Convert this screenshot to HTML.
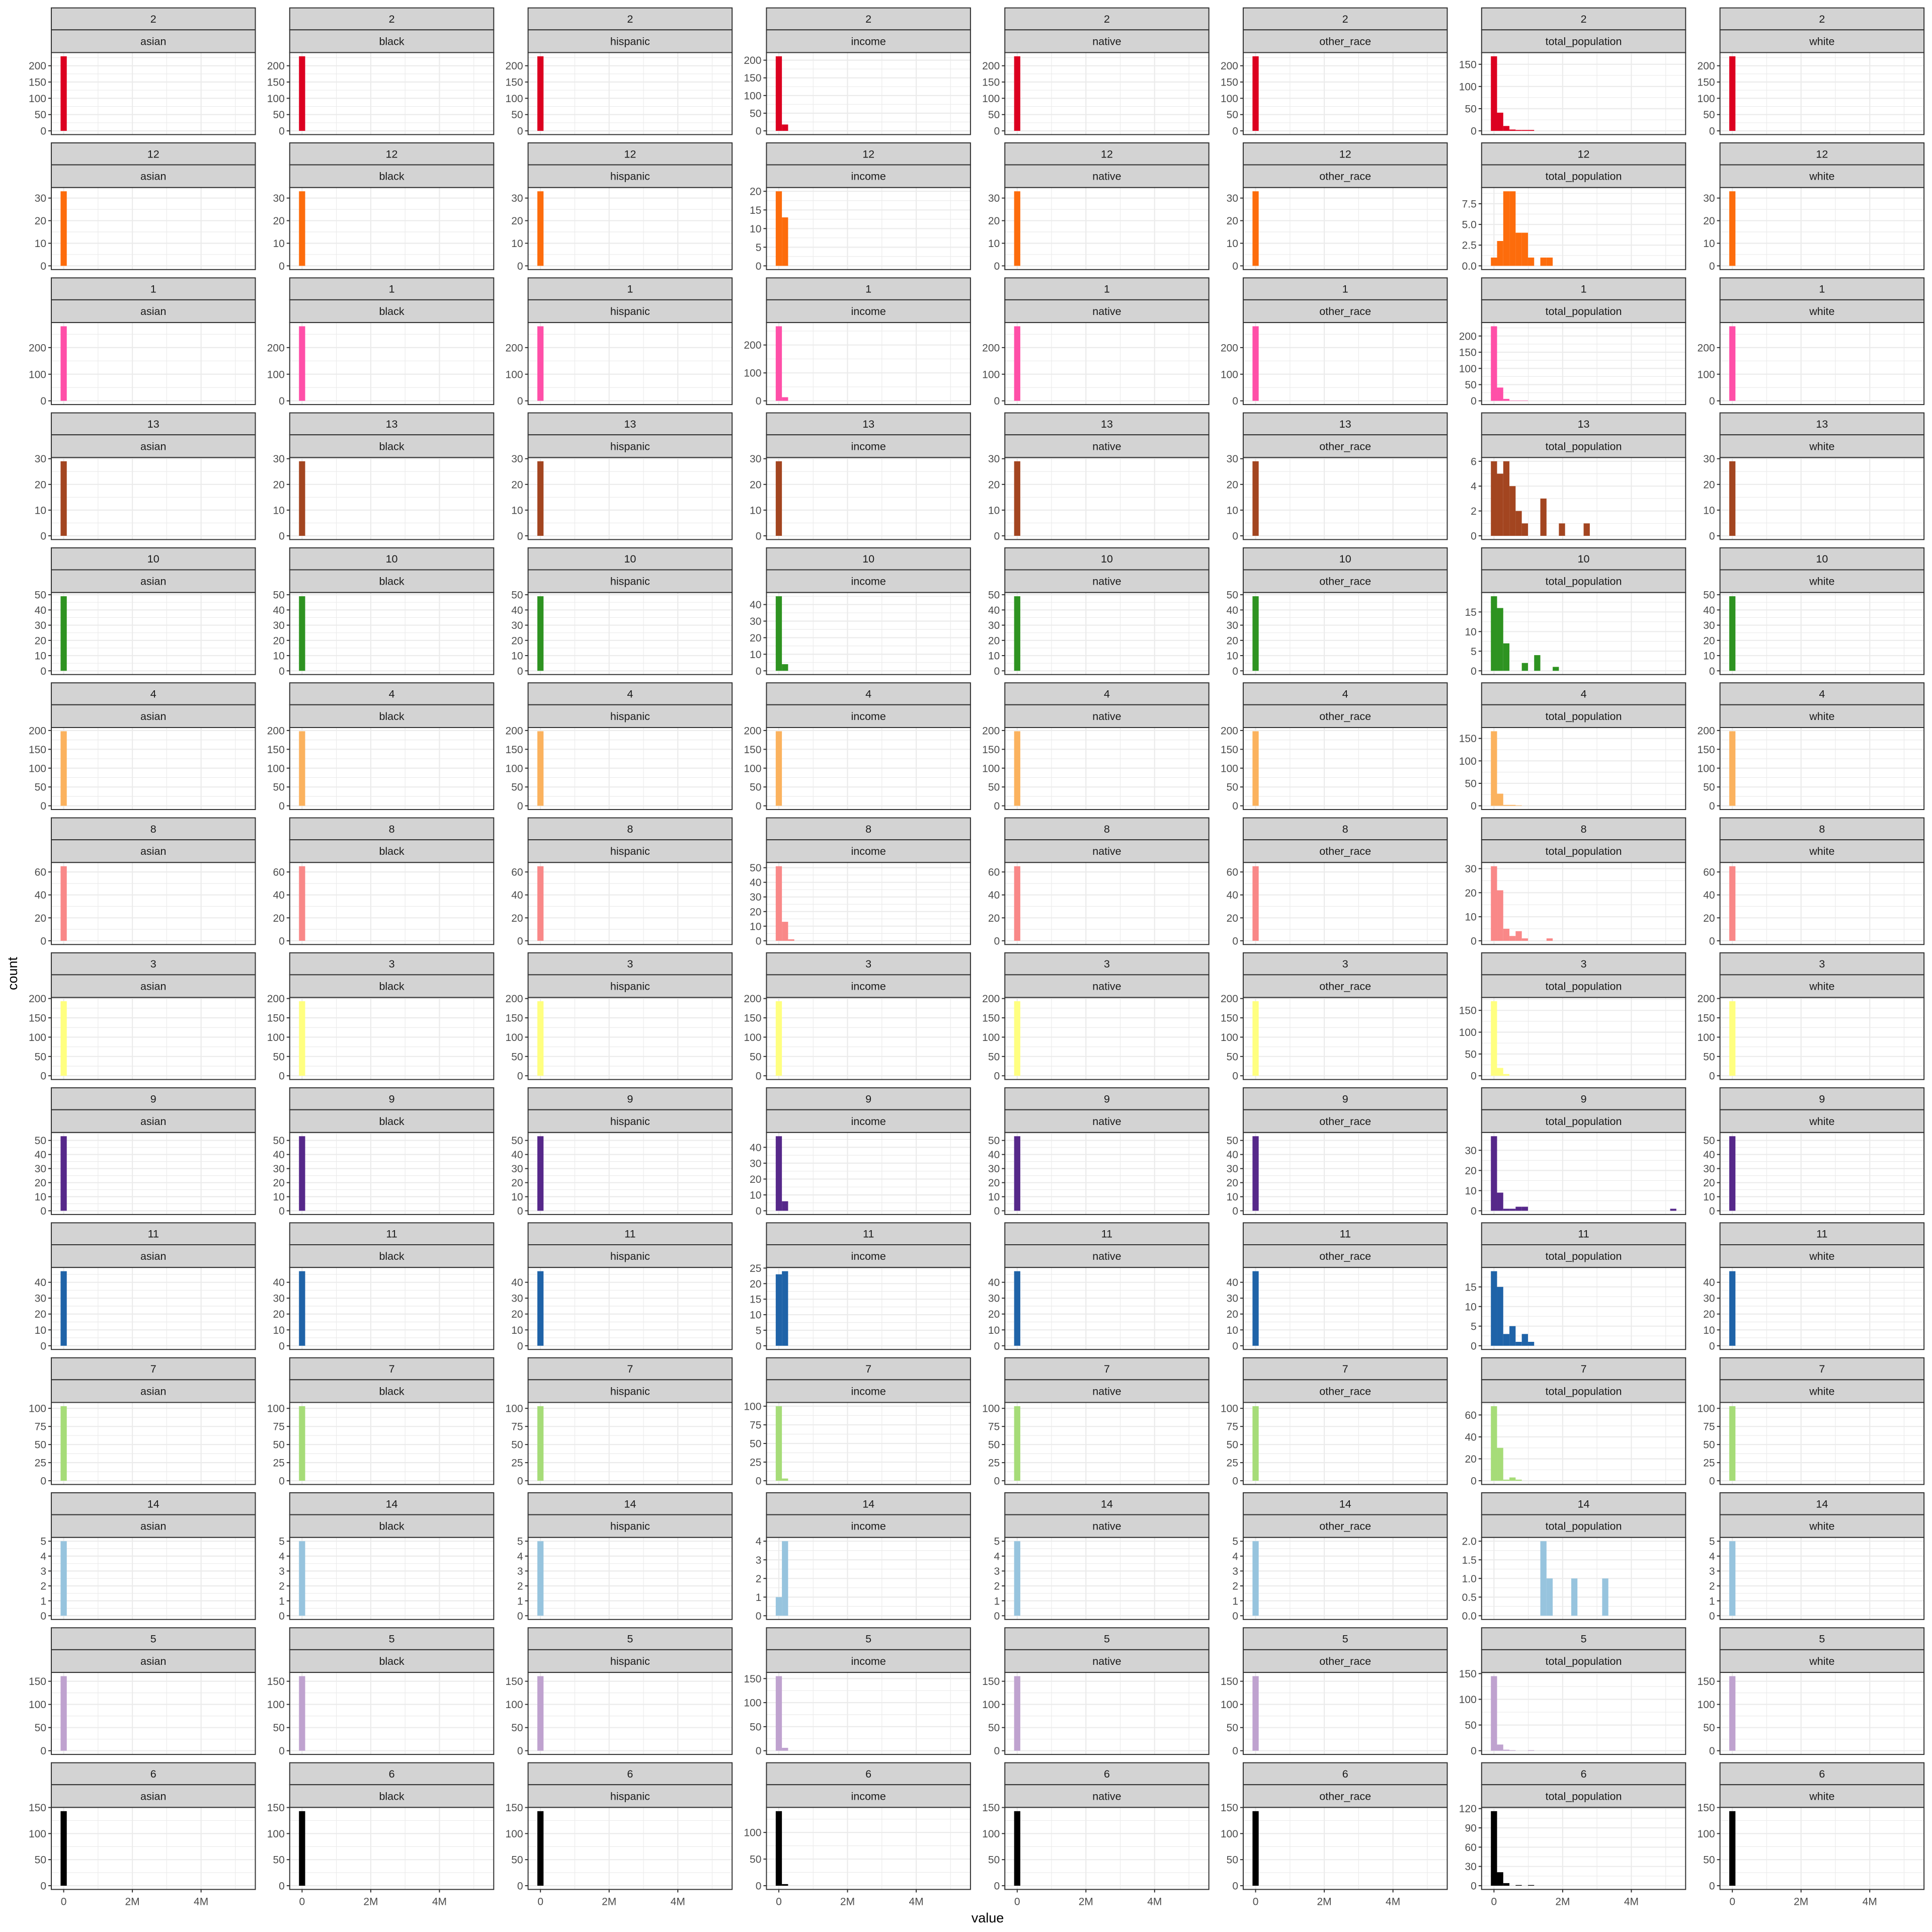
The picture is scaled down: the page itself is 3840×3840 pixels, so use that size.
<!DOCTYPE html>
<html>
<head>
<meta charset="utf-8">
<style>
  html, body { margin: 0; padding: 0; background: #ffffff; }
  svg { display: block; }
  text { font-family: "Liberation Sans", "DejaVu Sans", sans-serif; }
</style>
</head>
<body>
<svg id="chart" xmlns="http://www.w3.org/2000/svg" width="3840" height="3840" viewBox="0 0 3840 3840">
  <rect x="0" y="0" width="3840" height="3840" fill="#ffffff"></rect>
  <text x="1963" y="3821" font-size="27" fill="#000" text-anchor="middle">value</text>
  <text x="0" y="0" font-size="27" fill="#000" text-anchor="middle" transform="translate(34,1935) rotate(-90)">count</text>
</svg>
<script>
const regions = ["2","12","1","13","10","4","8","3","9","11","7","14","5","6"];
const variables = ["asian","black","hispanic","income","native","other_race","total_population","white"];
const regionColors = ["#DC0020","#FD6C0C","#FF4FA8","#A34520","#2E9321","#FBB25E","#F98888","#FFFF80","#56288A","#1F63A8","#A6DC78","#97C4DE","#BFA2CF","#000000"];
const raceCounts = [229,33,280,29,49,198,65,193,53,47,103,5,161,143];
const incomeCounts = [
  [211,18],[20,13],[267,13],[29],[45,4],[198],[51,13,1],[193],[47,6],[23,24],[100,3],[1,4],[155,6],[140,3]
];
const populationCounts = [
  [168,41,11,3,2,2,2],
  [1,3,9,9,4,4,1,0,1,1],
  [230,41,6,1,1,1],
  [6,5,6,4,2,1,0,0,3,0,0,1,0,0,0,1],
  [19,16,7,0,0,2,0,4,0,0,1],
  [166,27,2,2,1],
  [31,21,5,2,4,1,0,0,0,1],
  [171,18,4],
  [37,9,1,1,2,2,0,0,0,0,0,0,0,0,0,0,0,0,0,0,0,0,0,0,0,0,0,0,0,1],
  [19,15,3,5,1,3,1],
  [68,30,1,3,1],
  [0,0,0,0,0,0,0,0,2,1,0,0,0,1,0,0,0,0,1],
  [145,12,2,1,0,0,1],
  [116,21,4,0,1,0,1]
];
const raceTickSteps = [50,10,100,10,10,50,20,50,10,10,25,1,50,50];
const incomeTickSteps = [50,5,100,10,10,50,10,50,10,5,25,1,50,50];
const populationTickSteps = [50,2.5,50,2,5,50,10,50,10,5,20,0.5,50,30];
const binWidth = 180000;
const xTicks = [0, 2000000, 4000000];
const xTickLabels = ["0", "2M", "4M"];
const xMinorTicks = [1000000, 3000000, 5000000];
const xDomain = [-360000, 5580000];

const NS = "http://www.w3.org/2000/svg";
const svg = document.getElementById("chart");
const L = {
  left0: 102, colPitch: 473.8, panelW: 405.5,
  top0: 15.7, rowPitch: 268.3, strip1H: 43.6, strip2H: 45.2, plotH: 163
};

function mk(tag, attrs, parent) {
  const e = document.createElementNS(NS, tag);
  for (const k in attrs) e.setAttribute(k, attrs[k]);
  (parent || svg).appendChild(e);
  return e;
}

function fmtTicks(ticks, step) {
  const s = String(step);
  const dec = s.indexOf('.') >= 0 ? s.split('.')[1].length : 0;
  return ticks.map(t => t.toFixed(dec));
}

for (let r = 0; r < regions.length; r++) {
  for (let c = 0; c < variables.length; c++) {
    const left = L.left0 + c * L.colPitch;
    const top = L.top0 + r * L.rowPitch;
    const plotTop = top + L.strip1H + L.strip2H;
    const plotBot = plotTop + L.plotH;
    const W = L.panelW;
    const variable = variables[c];
    let counts, step;
    if (variable === "income") { counts = incomeCounts[r]; step = incomeTickSteps[r]; }
    else if (variable === "total_population") { counts = populationCounts[r]; step = populationTickSteps[r]; }
    else { counts = [raceCounts[r]]; step = raceTickSteps[r]; }
    const ymax = Math.max.apply(null, counts);
    const y0 = -0.05 * ymax, y1 = 1.05 * ymax;
    const yS = v => plotBot - (v - y0) / (y1 - y0) * L.plotH;
    const xS = v => left + (v - xDomain[0]) / (xDomain[1] - xDomain[0]) * W;

    const g = mk("g", {});
    
    

    const s1 = mk("rect", {x: left, y: top, width: W, height: L.strip1H, fill: "#D3D3D3", stroke: "#333333", "stroke-width": 2}, g);
    
    
    const s2 = mk("rect", {x: left, y: top + L.strip1H, width: W, height: L.strip2H, fill: "#D3D3D3", stroke: "#333333", "stroke-width": 2}, g);
    
    
    const t1 = mk("text", {x: left + W / 2, y: top + L.strip1H / 2 + 7.5, "font-size": 21.5, fill: "#1A1A1A", "text-anchor": "middle"}, g);
    t1.textContent = regions[r];
    
    
    const t2 = mk("text", {x: left + W / 2, y: top + L.strip1H + L.strip2H / 2 + 7.5, "font-size": 21.5, fill: "#1A1A1A", "text-anchor": "middle"}, g);
    t2.textContent = variable;
    
    

    const bg = mk("rect", {x: left, y: plotTop, width: W, height: L.plotH, fill: "#ffffff"}, g);
    
    

    const ticks = [];
    for (let k = 0; k * step <= y1 + 1e-9; k++) ticks.push(Math.round(k * step * 1e6) / 1e6);
    const labels = fmtTicks(ticks, step);

    const minors = [];
    for (let v = -step / 2; v <= y1; v += step) if (v >= y0) minors.push(v);
    minors.forEach(v => {
      const ln = mk("line", {x1: left, x2: left + W, y1: yS(v), y2: yS(v), stroke: "#EBEBEB", "stroke-width": 1.2}, g);
      
      
    });
    xMinorTicks.forEach(v => {
      const ln = mk("line", {x1: xS(v), x2: xS(v), y1: plotTop, y2: plotBot, stroke: "#EBEBEB", "stroke-width": 1.2}, g);
      
      
    });
    ticks.forEach(v => {
      const ln = mk("line", {x1: left, x2: left + W, y1: yS(v), y2: yS(v), stroke: "#EBEBEB", "stroke-width": 2.2}, g);
      
      
    });
    xTicks.forEach(v => {
      const ln = mk("line", {x1: xS(v), x2: xS(v), y1: plotTop, y2: plotBot, stroke: "#EBEBEB", "stroke-width": 2.2}, g);
      
      
    });

    counts.forEach((cnt, i) => {
      if (cnt <= 0) return;
      const cx = i * binWidth;
      const xa = xS(cx - binWidth / 2), xb = xS(cx + binWidth / 2);
      const bar = mk("rect", {x: xa, y: yS(cnt), width: xb - xa, height: yS(0) - yS(cnt), fill: regionColors[r]}, g);
      
      
    });

    const bd = mk("rect", {x: left, y: plotTop, width: W, height: L.plotH, fill: "none", stroke: "#333333", "stroke-width": 2}, g);
    
    

    ticks.forEach((v, i) => {
      const tk = mk("line", {x1: left - 6, x2: left, y1: yS(v), y2: yS(v), stroke: "#333333", "stroke-width": 2}, g);
      
      
      const tl = mk("text", {x: left - 10, y: yS(v) + 7.5, "font-size": 21, fill: "#4D4D4D", "text-anchor": "end"}, g);
      tl.textContent = labels[i];
      
      
    });

    if (r === regions.length - 1) {
      xTicks.forEach((v, i) => {
        const tk = mk("line", {x1: xS(v), x2: xS(v), y1: plotBot, y2: plotBot + 6, stroke: "#333333", "stroke-width": 2}, g);
        
        
        const tl = mk("text", {x: xS(v), y: plotBot + 31, "font-size": 21, fill: "#4D4D4D", "text-anchor": "middle"}, g);
        tl.textContent = xTickLabels[i];
        
        
      });
    }
  }
}
</script>
</body>
</html>
